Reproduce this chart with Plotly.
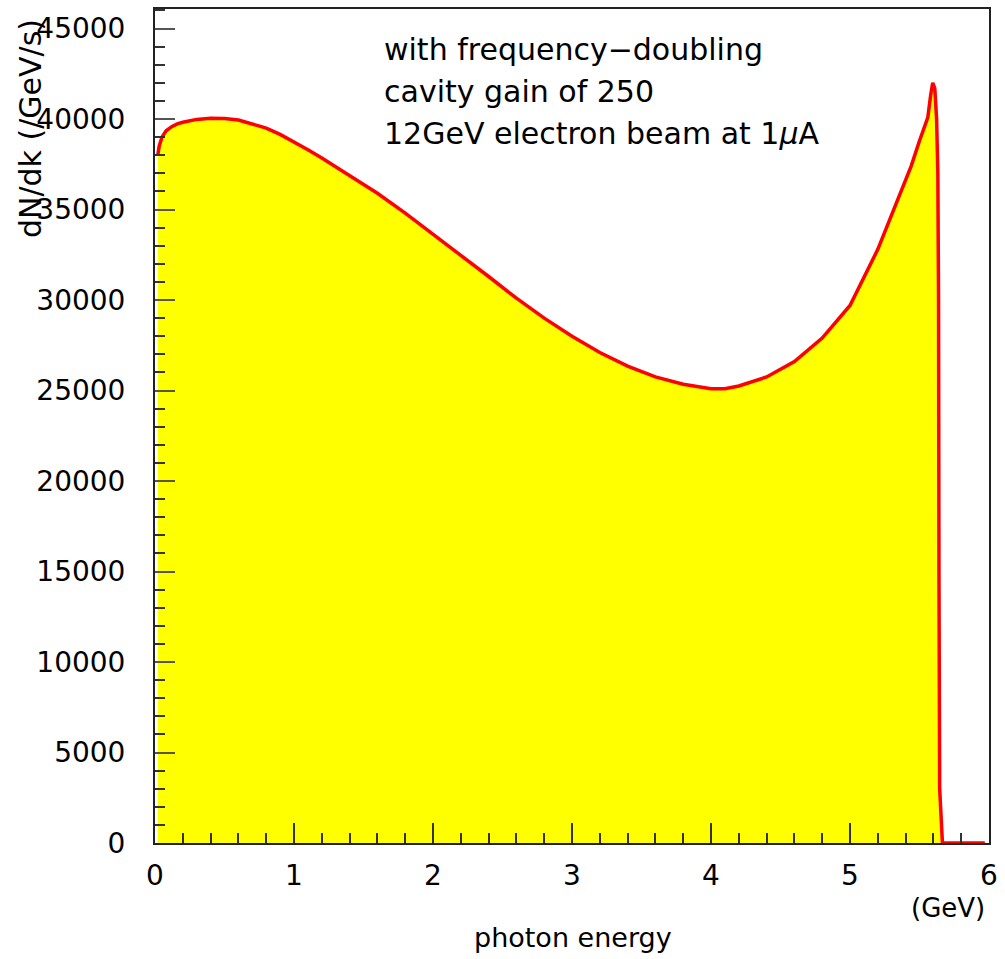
import plotly.graph_objects as go

# photon energy (GeV) and dN/dk (/GeV/s)
energy = [0.02, 0.03, 0.05, 0.08, 0.12, 0.16, 0.2, 0.3, 0.4, 0.5, 0.6, 0.7, 0.8,
          0.9, 1.0, 1.1, 1.2, 1.4, 1.6, 1.8, 2.0, 2.2, 2.4, 2.6, 2.8, 3.0, 3.2,
          3.4, 3.6, 3.8, 4.0, 4.1, 4.2, 4.4, 4.6, 4.8, 5.0, 5.2, 5.35, 5.44, 5.5,
          5.56, 5.58, 5.595, 5.61, 5.623, 5.632, 5.637, 5.64, 5.645, 5.665, 5.73, 5.97]
dndk = [38000, 38500, 39000, 39350, 39580, 39730, 39820, 39980, 40050, 40030,
        39950, 39750, 39500, 39150, 38750, 38300, 37850, 36900, 35900, 34800,
        33650, 32450, 31300, 30100, 29000, 28000, 27100, 26350, 25750, 25350,
        25100, 25100, 25250, 25750, 26600, 27900, 29700, 32800, 35600, 37400,
        38800, 40100, 41300, 42000, 41700, 40000, 37000, 30000, 15000, 3000, 0, 0, 0]

x_ticks = [0, 1, 2, 3, 4, 5, 6]
y_ticks = [0, 5000, 10000, 15000, 20000, 25000, 30000, 35000, 40000, 45000]
y_tick_text = ["0", "5000", "10000", "15000", "20000", "25000", "30000",
               "35000", "40000", "45000"]

notes = ["with frequency\u2212doubling", "cavity gain of 250",
         "12GeV electron beam at 1<i>\u03bc</i>A"]

FONT = "DejaVu Sans"

fig = go.Figure()
fig.add_trace(go.Scatter(
    x=energy, y=dndk, mode="lines", fill="tozeroy",
    fillcolor="#ffff00", line=dict(color="#ff0000", width=3.5),
    showlegend=False, hoverinfo="skip"))

W, H = 1005, 959
L, R, T, B = 155, 14, 7, 116
pw, ph = W - L - R, H - T - B

def px(xp):
    return (xp - L) / pw

def py(yp):
    return (H - B - yp) / ph

fig.update_layout(
    width=W, height=H,
    margin=dict(l=L, r=R, t=T, b=B),
    paper_bgcolor="white", plot_bgcolor="white",
    font=dict(family=FONT, size=28, color="black"),
    xaxis=dict(range=[0, 6], tickvals=x_ticks, ticks="inside", ticklen=20,
               tickwidth=1.5, tickcolor="#333", showline=True, linecolor="#222",
               linewidth=2, mirror=True, showgrid=False, zeroline=False,
               ticklabelstandoff=6,
               minor=dict(dtick=0.2, ticks="inside", ticklen=10, tickwidth=1.5,
                          tickcolor="#333", showgrid=False)),
    yaxis=dict(range=[0, 46080], tickvals=y_ticks, ticktext=y_tick_text,
               ticks="inside", ticklen=20,
               tickwidth=1.5, tickcolor="#555", showline=True, linecolor="#222",
               linewidth=2, mirror=True, showgrid=False, zeroline=False,
               ticklabelstandoff=22,
               minor=dict(dtick=1000, ticks="inside", ticklen=10, tickwidth=1.5,
                          tickcolor="#333", showgrid=False)),
)

for i, t in enumerate(notes):
    fig.add_annotation(text=t, xref="paper", yref="paper", x=px(383), y=py(48 + 42 * i),
                       xanchor="left", yanchor="middle", showarrow=False,
                       font=dict(family=FONT, size=30, color="black"))

fig.add_annotation(text="dN/dk (/GeV/s)", xref="paper", yref="paper",
                   x=px(30), y=py(127), textangle=-90, xanchor="center",
                   yanchor="middle", showarrow=False,
                   font=dict(family=FONT, size=30, color="black"))
fig.add_annotation(text="photon energy", xref="paper", yref="paper",
                   x=px(574), y=py(938), xanchor="center", yanchor="middle",
                   showarrow=False, font=dict(family=FONT, size=27, color="black"))
fig.add_annotation(text="(GeV)", xref="paper", yref="paper",
                   x=px(950), y=py(908), xanchor="center", yanchor="middle",
                   showarrow=False, font=dict(family=FONT, size=26, color="black"))

fig.write_html("out.html")
